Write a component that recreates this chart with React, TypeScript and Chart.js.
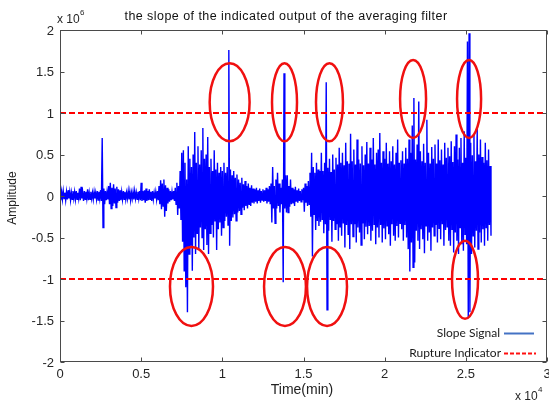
import { useEffect, useRef } from "react";
import { Chart, registerables } from "chart.js";

Chart.register(...registerables);

// ---- axis ticks ----
const xTickValues = [0, 5000, 10000, 15000, 20000, 25000, 30000];
const xTickLabels = ["0", "0.5", "1", "1.5", "2", "2.5", "3"];
const yTickValues = [-2e6, -1.5e6, -1e6, -0.5e6, 0, 0.5e6, 1e6, 1.5e6, 2e6];
const yTickLabels = ["-2", "-1.5", "-1", "-0.5", "0", "0.5", "1", "1.5", "2"];

// ---- signal: per-bin maximum / minimum (units of 1e5) ----
const binWidth = 100; // time units per bin
const signalUpper = [
  0.8, 0.5, 0.6, 0.4, 0.5, 0.7, 0.5, 0.4, 0.6, 0.5,
  0.6, 0.4, 0.9, 1.1, 0.4, 0.6, 0.5, 0.8, 0.4, 0.5,
  0.4, 0.5, 0.4, 0.6, 0.5, 0.7, 7.0, 0.9, 0.6, 0.5,
  1.2, 1.6, 1.0, 1.4, 0.9, 1.1, 0.8, 0.7, 0.5, 0.6,
  0.5, 0.4, 0.6, 0.5, 0.4, 0.5, 0.6, 0.4, 0.5, 0.6,
  1.6, 0.6, 0.7, 0.9, 0.6, 0.8, 0.5, 0.6, 0.4, 0.5,
  0.6, 1.2, 1.9, 1.5, 2.0, 1.3, 1.0, 0.8, 0.6, 0.5,
  0.6, 1.0, 1.6, 1.2, 3.0, 5.2, 5.5, 4.0, 2.0, 6.0,
  4.5, 3.5, 5.0, 7.7, 4.0, 6.0, 3.8, 5.5, 8.2, 4.5,
  5.0, 7.1, 3.5, 4.5, 3.0, 5.5, 3.2, 4.0, 2.8, 3.5,
  3.0, 4.0, 2.8, 3.5, 17.6, 3.2, 2.5, 3.0, 2.2, 2.6,
  2.0, 1.6, 2.2, 1.4, 1.8, 1.2, 1.5, 1.0, 1.3, 0.9,
  0.8, 1.0, 0.7, 0.9, 0.6, 0.8, 0.7, 1.0, 0.8, 1.2,
  1.5, 3.5, 1.2, 2.0, 2.8, 1.5, 1.0, 2.0, 14.8, 2.5,
  2.5, 1.2, 2.0, 1.0, 0.8, 1.1, 0.7, 0.9, 0.6, 0.8,
  1.0, 1.5, 1.2, 1.8, 2.8, 5.2, 3.5, 2.8, 4.0, 3.2,
  3.0, 5.2, 3.0, 4.0, 13.7, 3.4, 4.5, 2.9, 5.0, 3.2,
  4.6, 3.8, 5.8, 4.0, 5.2, 3.7, 6.4, 4.2, 3.9, 7.5,
  4.2, 5.6, 3.8, 6.8, 4.4, 3.9, 6.0, 3.7, 5.0, 6.5,
  3.9, 5.8, 4.4, 7.0, 3.8, 5.2, 5.6, 7.6, 4.0, 5.4,
  4.5, 6.4, 3.9, 5.4, 4.2, 6.0, 3.8, 5.2, 6.8, 4.0,
  4.3, 5.4, 3.9, 5.8, 4.5, 6.8, 5.2, 8.5, 11.8, 4.4,
  6.2, 11.4, 5.4, 4.2, 6.3, 4.0, 9.2, 5.2, 3.9, 5.9,
  4.5, 6.2, 3.9, 6.8, 4.3, 5.6, 3.8, 6.4, 4.6, 5.8,
  4.8, 6.6, 4.1, 6.0, 7.4, 4.4, 5.8, 7.0, 4.0, 7.8,
  4.6, 18.6, 19.6, 6.4, 4.9, 7.4, 4.2, 8.2, 5.0, 6.8,
  4.7, 4.0, 6.4, 4.3, 5.6, 3.6,
];
const signalLower = [
  -0.5, -0.4, -0.3, -0.5, -0.4, -0.3, -0.5, -0.4, -0.3, -0.4,
  -0.4, -0.3, -0.5, -0.3, -0.6, -0.4, -0.3, -0.5, -0.4, -0.3,
  -0.4, -0.3, -0.4, -0.5, -0.3, -0.6, -3.8, -1.0, -0.5, -0.4,
  -1.0, -1.5, -1.2, -0.9, -1.4, -0.8, -0.6, -0.5, -0.4, -0.4,
  -0.4, -0.3, -0.4, -0.5, -0.3, -0.4, -0.3, -0.4, -0.3, -0.5,
  -0.6, -0.5, -0.8, -0.6, -0.5, -0.4, -0.6, -0.4, -0.3, -0.4,
  -0.5, -1.0, -1.6, -1.2, -2.5, -1.8, -0.9, -0.7, -0.5, -0.4,
  -0.6, -1.0, -2.3, -1.5, -2.9, -5.5, -9.0, -11.0, -14.0, -7.0,
  -6.0, -9.0, -5.0, -7.0, -4.5, -6.5, -3.8, -5.0, -6.5, -4.0,
  -5.9, -7.0, -4.5, -3.5, -5.0, -3.0, -6.5, -4.0, -3.2, -4.8,
  -3.8, -3.0, -2.5, -3.5, -6.0, -3.0, -2.6, -2.2, -3.0, -2.0,
  -1.8, -2.2, -1.4, -1.7, -1.2, -1.5, -1.0, -1.2, -0.8, -0.9,
  -0.7, -0.9, -0.6, -0.8, -0.5, -0.7, -0.6, -0.9, -0.7, -1.0,
  -3.2, -1.5, -3.3, -1.5, -1.2, -2.0, -1.0, -10.4, -1.5, -2.0,
  -2.0, -1.3, -1.0, -0.9, -1.2, -0.7, -0.8, -0.6, -0.7, -0.5,
  -1.9, -0.8, -1.2, -1.0, -2.5, -7.3, -2.2, -4.1, -3.0, -3.6,
  -3.1, -2.8, -4.5, -3.4, -13.7, -4.2, -2.9, -5.5, -3.0, -4.0,
  -3.4, -5.4, -3.7, -4.8, -3.3, -6.2, -3.5, -4.6, -6.4, -3.4,
  -4.9, -3.4, -5.6, -3.8, -4.4, -5.9, -3.3, -5.2, -3.7, -4.6,
  -3.6, -5.4, -4.2, -3.4, -5.8, -3.8, -5.0, -3.5, -5.6, -3.9,
  -5.2, -3.6, -4.6, -6.0, -3.4, -4.8, -5.4, -3.6, -5.0, -3.3,
  -4.0, -5.4, -3.5, -5.0, -6.4, -9.1, -5.6, -8.6, -8.0, -4.2,
  -5.4, -6.4, -4.0, -5.2, -6.9, -3.6, -5.4, -4.4, -6.6, -3.8,
  -4.8, -3.5, -5.6, -3.9, -5.2, -3.4, -6.0, -4.1, -3.7, -5.4,
  -6.0, -4.0, -6.8, -4.4, -5.4, -7.0, -3.8, -5.8, -6.6, -4.6,
  -5.8, -14.7, -14.0, -7.0, -4.8, -6.2, -4.2, -6.4, -4.4, -5.6,
  -4.0, -6.0, -3.8, -5.4, -3.5, -4.8,
];
const signalUnit = 1e5;

// ---- rupture indicator levels ----
const ruptureLevels = [1e6, -1e6];

// ---- highlighted events (ellipses), data coordinates ----
const ellipseX = [10450, 13830, 16600, 21750, 25200, 8100, 13860, 16450, 24950];
const ellipseY = [1.13e6, 1.13e6, 1.13e6, 1.17e6, 1.17e6, -1.09e6, -1.09e6, -1.09e6, -1.01e6];
const ellipseRX = [1230, 770, 830, 800, 740, 1325, 1290, 1230, 800];
const ellipseRY = [0.47e6, 0.47e6, 0.47e6, 0.47e6, 0.47e6, 0.475e6, 0.475e6, 0.475e6, 0.47e6];

const legendLabels = ["Slope Signal", "Rupture Indicator"];

const AXIS_FONT = '"Liberation Sans", Arial, sans-serif';

const overlayPlugin = {
  id: "matlabOverlay",
  afterDatasetsDraw(chart: any) {
    const { ctx, chartArea: a, scales } = chart;
    const xs = scales.x;
    const ys = scales.y;
    ctx.save();

    // ellipses
    ctx.strokeStyle = "#f01010";
    ctx.lineWidth = 2.5;
    ctx.setLineDash([]);
    for (let i = 0; i < ellipseX.length; i++) {
      const cx = xs.getPixelForValue(ellipseX[i]);
      const cy = ys.getPixelForValue(ellipseY[i]);
      const rx = Math.abs(xs.getPixelForValue(ellipseX[i] + ellipseRX[i]) - cx);
      const ry = Math.abs(ys.getPixelForValue(ellipseY[i] + ellipseRY[i]) - cy);
      ctx.beginPath();
      ctx.ellipse(cx, cy, rx, ry, 0, 0, Math.PI * 2);
      ctx.stroke();
    }

    // box
    ctx.strokeStyle = "#4a4a4a";
    ctx.lineWidth = 1;
    const L = Math.round(a.left) + 0.5;
    const R = Math.round(a.right) - 0.5;
    const T = Math.round(a.top) + 0.5;
    const B = Math.round(a.bottom) - 0.5;
    ctx.strokeRect(L, T, R - L, B - T);

    // ticks inward
    const tl = 4;
    ctx.beginPath();
    xTickValues.forEach((v) => {
      const px = Math.round(xs.getPixelForValue(v)) + 0.5;
      ctx.moveTo(px, B);
      ctx.lineTo(px, B - tl);
      ctx.moveTo(px, T);
      ctx.lineTo(px, T + tl);
    });
    yTickValues.forEach((v) => {
      const py = Math.round(ys.getPixelForValue(v)) + 0.5;
      ctx.moveTo(L, py);
      ctx.lineTo(L + tl, py);
      ctx.moveTo(R, py);
      ctx.lineTo(R - tl, py);
    });
    ctx.stroke();

    // tick labels
    ctx.fillStyle = "#262626";
    ctx.font = `13px ${AXIS_FONT}`;
    ctx.textAlign = "center";
    ctx.textBaseline = "top";
    xTickValues.forEach((v, i) => {
      ctx.fillText(xTickLabels[i], xs.getPixelForValue(v), a.bottom + 6);
    });
    ctx.textAlign = "right";
    ctx.textBaseline = "middle";
    yTickValues.forEach((v, i) => {
      ctx.fillText(yTickLabels[i], a.left - 6, ys.getPixelForValue(v) + 1);
    });

    // exponent labels
    ctx.textAlign = "left";
    ctx.textBaseline = "alphabetic";
    ctx.font = `12px ${AXIS_FONT}`;
    ctx.fillText("x 10", 57, 23);
    ctx.font = `8px ${AXIS_FONT}`;
    ctx.fillText("6", 80, 15);
    ctx.font = `12px ${AXIS_FONT}`;
    ctx.fillText("x 10", 515, 400);
    ctx.font = `8px ${AXIS_FONT}`;
    ctx.fillText("4", 538, 392);

    // axis titles
    ctx.fillStyle = "#222";
    ctx.font = `14px ${AXIS_FONT}`;
    ctx.textAlign = "center";
    ctx.textBaseline = "middle";
    ctx.fillText("Time(min)", 302, 390);
    ctx.save();
    ctx.translate(13, 198);
    ctx.rotate(-Math.PI / 2);
    ctx.font = `12px ${AXIS_FONT}`;
    ctx.fillText("Amplitude", 0, 0);
    ctx.restore();

    // title
    ctx.fillStyle = "#111";
    ctx.font = `12.5px ${AXIS_FONT}`;
    (ctx as any).letterSpacing = "0.45px";
    ctx.textAlign = "center";
    ctx.textBaseline = "alphabetic";
    ctx.fillText("the slope of the indicated output of the averaging filter", 286, 20);
    (ctx as any).letterSpacing = "0px";

    // legend
    ctx.font = `12px Lato, "Open Sans", sans-serif`;
    ctx.textAlign = "right";
    ctx.textBaseline = "middle";
    ctx.fillStyle = "#1a1a1a";
    ctx.fillText(legendLabels[0], 500, 333);
    ctx.fillText(legendLabels[1], 501, 353);
    ctx.lineWidth = 2;
    ctx.strokeStyle = "#4472c4";
    ctx.beginPath();
    ctx.moveTo(504, 333.5);
    ctx.lineTo(534, 333.5);
    ctx.stroke();
    ctx.strokeStyle = "#ff1010";
    ctx.setLineDash([4, 2]);
    ctx.beginPath();
    ctx.moveTo(504, 353.5);
    ctx.lineTo(536, 353.5);
    ctx.stroke();

    ctx.restore();
  },
};

export default function App() {
  const canvasRef = useRef<HTMLCanvasElement | null>(null);

  useEffect(() => {
    const canvas = canvasRef.current;
    if (!canvas) return;

    const signalPoints: { x: number; y: number }[] = [];
    signalUpper.forEach((u, i) => {
      signalPoints.push({ x: i * binWidth, y: u * signalUnit });
      signalPoints.push({ x: i * binWidth + binWidth / 2, y: signalLower[i] * signalUnit });
    });

    const ruptureSets = ruptureLevels.map((lvl) => ({
      label: "Rupture Indicator",
      data: [
        { x: xTickValues[0], y: lvl },
        { x: xTickValues[xTickValues.length - 1], y: lvl },
      ],
      showLine: true,
      borderColor: "#ff0000",
      borderWidth: 2,
      borderDash: [6, 3],
      pointRadius: 0,
      order: 0,
    }));

    const chart = new Chart(canvas, {
      type: "scatter",
      data: {
        datasets: [
          {
            label: "Slope Signal",
            data: signalPoints,
            showLine: true,
            borderColor: "#0000ff",
            borderWidth: 1.4,
            pointRadius: 0,
            order: 1,
          },
          ...ruptureSets,
        ] as any,
      },
      options: {
        animation: false,
        responsive: false,
        devicePixelRatio: 1,
        events: [],
        layout: { padding: { left: 60, top: 30, right: 2, bottom: 40 } },
        plugins: {
          legend: { display: false },
          tooltip: { enabled: false },
          title: { display: false },
        },
        scales: {
          x: { type: "linear", min: 0, max: 30000, display: false },
          y: { type: "linear", min: -2e6, max: 2e6, display: false },
        },
      },
      plugins: [overlayPlugin],
    });

    return () => chart.destroy();
  }, []);

  return (
    <div style={{ position: "fixed", left: 0, top: 0, width: 549, height: 402, background: "#fff" }}>
      <canvas ref={canvasRef} width={549} height={402} style={{ width: 549, height: 402, display: "block" }} />
    </div>
  );
}
